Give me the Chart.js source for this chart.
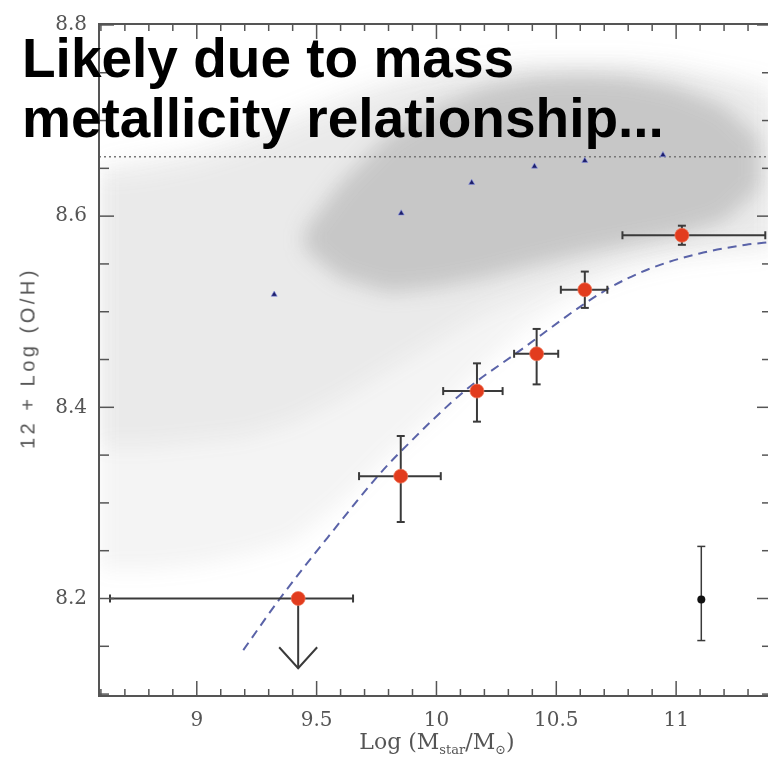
<!DOCTYPE html>
<html>
<head>
<meta charset="utf-8">
<script src="https://cdn.jsdelivr.net/npm/chart.js@4.4.0/dist/chart.umd.min.js"></script>
<style>
  html, body { margin: 0; padding: 0; background: #fff; overflow: hidden; }
  #wrap { position: relative; width: 768px; height: 763px; overflow: hidden; }
  #massChart { position: absolute; left: 0; top: 0; }
  .headline {
    position: absolute; left: 22px; top: 28px;
    font: bold 55px "Liberation Sans", Arial, sans-serif; line-height: 60px;
    color: #000; white-space: nowrap;
  }
  .y-title {
    position: absolute; left: 28px; top: 358px;
    transform: translate(-50%, -50%) rotate(-90deg);
    font: 20px "Liberation Sans", Arial, sans-serif; letter-spacing: 3.5px;
    color: #555; white-space: nowrap;
  }
  .x-title {
    position: absolute; left: 437px; top: 729px; transform: translateX(-50%);
    font: 22px "DejaVu Serif", serif; line-height: 26px;
    color: #555; white-space: nowrap;
  }
  .x-title sub { font-size: 13px; vertical-align: -5px; }
</style>
</head>
<body>
<div id="wrap">
  <canvas id="massChart" width="800" height="763"></canvas>
  <div class="y-title">12 + Log (O/H)</div>
  <div class="x-title">Log (M<sub>star</sub>/M<sub>&#8857;</sub>)</div>
  <div class="headline">Likely due to mass<br>metallicity relationship...</div>
</div>
<script>
// stacked bins: mass, metallicity and their error extents
const redMass = [9.423, 9.851, 10.169, 10.418, 10.619, 11.024];
const redOH = [8.200, 8.328, 8.417, 8.456, 8.523, 8.580];
const redMassLo = [8.638, 9.677, 10.028, 10.324, 10.519, 10.776];
const redMassHi = [9.652, 10.018, 10.276, 10.508, 10.713, 11.372];
const redOHLo = [null, 8.280, 8.385, 8.424, 8.504, 8.570];
const redOHHi = [null, 8.370, 8.446, 8.482, 8.542, 8.590];
const limitTo = [8.127, null, null, null, null, null];

// SDSS median relation
const blueMass = [9.323, 9.853, 10.147, 10.409, 10.619, 10.945];
const blueOH = [8.518, 8.603, 8.635, 8.652, 8.658, 8.664];

// typical error bar
const errMass = [11.105];
const errOH = [8.199];
const errOHLo = [8.156];
const errOHHi = [8.2545];

// fitted relation (dashed)
const fitMass = [9.194, 9.347, 9.569, 9.755, 9.848, 10.117, 10.327, 10.709, 10.89, 11.098, 11.292, 11.40];
const fitOH = [8.146, 8.200, 8.271, 8.328, 8.353, 8.417, 8.4555, 8.523, 8.545, 8.561, 8.570, 8.573];

// solar value (dotted)
const solarOH = 8.662;

// SDSS galaxy cloud, drawn as density bands
const cloudMass = [8.6, 8.8, 9.0, 9.2, 9.4, 9.6, 9.8, 10.0, 10.2, 10.4, 10.6, 10.8, 11.0, 11.2, 11.4];
const cloudOuterTop = [8.655, 8.665, 8.675, 8.69, 8.71, 8.73, 8.745, 8.755, 8.76, 8.765, 8.765, 8.765, 8.76, 8.75, 8.74];
const cloudOuterBottom = [8.23, 8.23, 8.235, 8.245, 8.26, 8.30, 8.35, 8.395, 8.445, 8.49, 8.52, 8.54, 8.552, 8.558, 8.562];
const cloudMidTop = [8.64, 8.645, 8.655, 8.67, 8.69, 8.71, 8.73, 8.745, 8.75, 8.755, 8.755, 8.755, 8.75, 8.74, 8.72];
const cloudMidBottom = [8.36, 8.36, 8.365, 8.37, 8.385, 8.41, 8.44, 8.47, 8.50, 8.52, 8.54, 8.555, 8.565, 8.57, 8.575];
const coreMass = [9.45, 9.6, 9.8, 10.0, 10.2, 10.4, 10.6, 10.8, 11.0, 11.2, 11.35];
const coreTop = [8.585, 8.635, 8.685, 8.715, 8.735, 8.745, 8.748, 8.745, 8.735, 8.715, 8.68];
const coreBottom = [8.565, 8.535, 8.52, 8.525, 8.535, 8.548, 8.56, 8.57, 8.58, 8.595, 8.63];

const xTickLabels = [9, 9.5, 10, 10.5, 11];
const yTickLabels = [8.2, 8.4, 8.6, 8.8];

const X_MIN = 8.592, X_MAX = 11.4;
const Y_MIN = 8.098, Y_MAX = 8.801;
const axisColor = '#555';
const barColor = '#3a3a3a';

const pts = (xs, ys) => xs.map((x, i) => ({ x: x, y: ys[i] }));

const cloudPlugin = {
  id: 'cloud',
  beforeDatasetsDraw(chart) {
    const { ctx, chartArea: a, scales: { x, y } } = chart;
    const bands = [
      [cloudMass, cloudOuterTop, cloudOuterBottom, 'rgba(120,120,120,0.08)'],
      [cloudMass, cloudMidTop, cloudMidBottom, 'rgba(120,120,120,0.08)'],
      [coreMass, coreTop, coreBottom, 'rgba(120,120,120,0.30)'],
    ];
    ctx.save();
    ctx.beginPath();
    ctx.rect(a.left, a.top, a.right - a.left, a.bottom - a.top);
    ctx.clip();
    ctx.filter = 'blur(10px)';
    bands.forEach(([xs, top, bottom, color]) => {
      ctx.beginPath();
      xs.forEach((m, i) => {
        const px = x.getPixelForValue(m), py = y.getPixelForValue(top[i]);
        i ? ctx.lineTo(px, py) : ctx.moveTo(px, py);
      });
      for (let i = xs.length - 1; i >= 0; i--) {
        ctx.lineTo(x.getPixelForValue(xs[i]), y.getPixelForValue(bottom[i]));
      }
      ctx.closePath();
      ctx.fillStyle = color;
      ctx.fill();
    });
    ctx.restore();
  },
  beforeDatasetDraw(chart, args) {
    const { ctx, scales: { x, y } } = chart;
    const seg = (x1, y1, x2, y2) => { ctx.beginPath(); ctx.moveTo(x1, y1); ctx.lineTo(x2, y2); ctx.stroke(); };
    ctx.save();
    ctx.strokeStyle = barColor;
    ctx.lineWidth = 2;
    if (args.index === 0) {
      redMass.forEach((m, i) => {
        const px = x.getPixelForValue(m), py = y.getPixelForValue(redOH[i]);
        const l = x.getPixelForValue(redMassLo[i]), r = x.getPixelForValue(redMassHi[i]);
        seg(l, py, r, py);
        seg(l, py - 4, l, py + 4);
        seg(r, py - 4, r, py + 4);
        if (redOHLo[i] !== null) {
          const b = y.getPixelForValue(redOHLo[i]), t = y.getPixelForValue(redOHHi[i]);
          seg(px, t, px, b);
          seg(px - 4, t, px + 4, t);
          seg(px - 4, b, px + 4, b);
        }
        if (limitTo[i] !== null) {
          const tip = y.getPixelForValue(limitTo[i]);
          seg(px, py, px, tip);
          ctx.beginPath();
          ctx.moveTo(px - 19, tip - 21);
          ctx.lineTo(px, tip);
          ctx.lineTo(px + 19, tip - 21);
          ctx.stroke();
        }
      });
    }
    if (args.index === 1) {
      errMass.forEach((m, i) => {
        const px = x.getPixelForValue(m);
        const b = y.getPixelForValue(errOHLo[i]), t = y.getPixelForValue(errOHHi[i]);
        ctx.lineWidth = 1.5;
        seg(px, t, px, b);
        seg(px - 4, t, px + 4, t);
        seg(px - 4, b, px + 4, b);
      });
    }
    ctx.restore();
  },
  afterDraw(chart) {
    const { ctx, chartArea: a, scales: { x, y } } = chart;
    const seg = (x1, y1, x2, y2) => { ctx.beginPath(); ctx.moveTo(x1, y1); ctx.lineTo(x2, y2); ctx.stroke(); };
    ctx.save();
    ctx.strokeStyle = axisColor;
    ctx.lineWidth = 2;
    ctx.strokeRect(a.left, a.top, a.right - a.left, a.bottom - a.top);
    ctx.lineWidth = 1.5;
    // minor ticks every 0.1 in mass, longer at each labelled half
    for (let k = 86; k <= 114; k++) {
      const px = x.getPixelForValue(k / 10);
      const len = k % 5 === 0 ? 15 : 7;
      seg(px, a.bottom, px, a.bottom - len);
      seg(px, a.top, px, a.top + len);
    }
    // metallicity ticks every 0.05
    for (let k = 162; k <= 176; k++) {
      const py = y.getPixelForValue(k / 20);
      const len = k % 4 === 0 ? 15 : 10;
      seg(a.left, py, a.left + len, py);
      seg(a.right, py, a.right - len, py);
    }
    ctx.restore();
  }
};

new Chart(document.getElementById('massChart'), {
  type: 'scatter',
  data: {
    datasets: [
      {
        label: 'Binned galaxies',
        data: pts(redMass, redOH),
        pointRadius: 7,
        backgroundColor: '#e23c1e',
        borderColor: 'rgba(240,120,90,0.7)',
        borderWidth: 1,
        order: 0,
      },
      {
        label: 'Typical error',
        data: pts(errMass, errOH),
        pointRadius: 4,
        backgroundColor: '#111',
        borderWidth: 0,
        order: 1,
      },
      {
        label: 'SDSS median',
        data: pts(blueMass, blueOH),
        pointStyle: 'triangle',
        pointRadius: 3.5,
        backgroundColor: '#1d1f6b',
        borderColor: 'rgba(140,150,230,0.6)',
        borderWidth: 1,
        order: 2,
      },
      {
        type: 'line',
        label: 'Fit',
        data: pts(fitMass, fitOH),
        borderColor: '#5a63a8',
        borderWidth: 2,
        borderDash: [9, 6],
        pointRadius: 0,
        cubicInterpolationMode: 'monotone',
        fill: false,
        order: 3,
      },
      {
        type: 'line',
        label: 'Solar',
        data: [{ x: X_MIN, y: solarOH }, { x: X_MAX, y: solarOH }],
        borderColor: '#777',
        borderWidth: 1.5,
        borderDash: [2, 3],
        pointRadius: 0,
        fill: false,
        order: 4,
      },
    ],
  },
  options: {
    responsive: false,
    animation: false,
    events: [],
    layout: { padding: { top: 21, right: 28, left: 0, bottom: 0 } },
    plugins: {
      legend: { display: false },
      tooltip: { enabled: false },
    },
    scales: {
      x: {
        type: 'linear',
        min: X_MIN,
        max: X_MAX,
        grid: { display: false, drawTicks: false },
        border: { display: false },
        afterBuildTicks: (axis) => { axis.ticks = xTickLabels.map((value) => ({ value })); },
        afterFit: (axis) => { axis.height = 67; },
        ticks: {
          padding: 13,
          color: '#555',
          font: { family: '"DejaVu Serif", serif', size: 20 },
          callback: (v) => String(v),
        },
      },
      y: {
        type: 'linear',
        min: Y_MIN,
        max: Y_MAX,
        grid: { display: false, drawTicks: false },
        border: { display: false },
        afterBuildTicks: (axis) => { axis.ticks = yTickLabels.map((value) => ({ value })); },
        afterFit: (axis) => { axis.width = 99; },
        ticks: {
          padding: 12,
          color: '#555',
          font: { family: '"DejaVu Serif", serif', size: 20 },
          callback: (v) => v.toFixed(1),
        },
      },
    },
  },
  plugins: [cloudPlugin],
});
</script>
</body>
</html>
